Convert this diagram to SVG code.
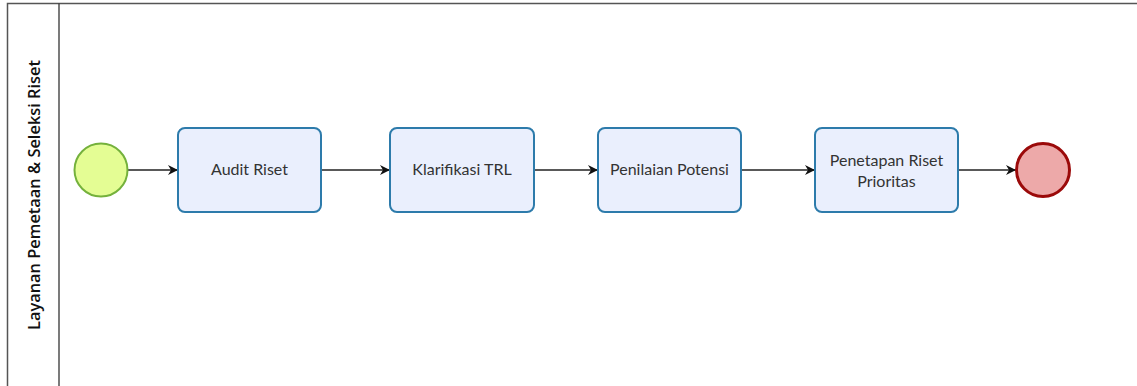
<svg xmlns="http://www.w3.org/2000/svg" width="1137" height="386" viewBox="0 0 1137 386">
<style>
.task{fill:#eaeffd;stroke:#2d7bab;stroke-width:2}
.lbl{font-family:Lato,"Open Sans",sans-serif;font-size:16px;fill:#333;text-anchor:middle}
.conn{stroke:#222;stroke-width:1.3;fill:none;marker-end:url(#arr)}
</style>
<defs>
<marker id="arr" viewBox="0 0 10 10" refX="10" refY="5" markerWidth="10" markerHeight="10" markerUnits="userSpaceOnUse" orient="auto">
<path d="M0,0 L10,5 L0,10 L3,5 Z" fill="#111"/>
</marker>
</defs>
<rect width="1137" height="386" fill="#fff"/>
<g id="pool">
<path d="M1137,3.5 H7.5 V386" fill="none" stroke="#555" stroke-width="1.5"/>
<line x1="59" y1="3.5" x2="59" y2="386" stroke="#333" stroke-width="1.3"/>
<text transform="translate(39.5,195) rotate(-90)" text-anchor="middle" font-family="'Open Sans',Lato,sans-serif" font-weight="600" font-size="16.4" fill="#111">Layanan Pemetaan &amp; Seleksi Riset</text>
</g>
<g id="connectors">
<line class="conn" x1="127.5" y1="170" x2="178" y2="170"/>
<line class="conn" x1="321" y1="170" x2="390" y2="170"/>
<line class="conn" x1="534" y1="170" x2="598" y2="170"/>
<line class="conn" x1="741" y1="170" x2="815" y2="170"/>
<line class="conn" x1="958" y1="170" x2="1016" y2="170"/>
</g>
<g id="start"><circle cx="101" cy="170" r="26.5" fill="#e4fd94" stroke="#74b13c" stroke-width="2"/></g>
<g id="audit"><rect class="task" x="178" y="128" width="143" height="84" rx="7"/><text class="lbl" x="249.5" y="175">Audit Riset</text></g>
<g id="klarifikasi"><rect class="task" x="390" y="128" width="144" height="84" rx="7"/><text class="lbl" x="462" y="175">Klarifikasi TRL</text></g>
<g id="penilaian"><rect class="task" x="598" y="128" width="143" height="84" rx="7"/><text class="lbl" x="669.5" y="175">Penilaian Potensi</text></g>
<g id="penetapan"><rect class="task" x="815" y="128" width="143" height="84" rx="7"/><text class="lbl" x="886.5" y="166">Penetapan Riset</text><text class="lbl" x="886.5" y="187">Prioritas</text></g>
<g id="end"><circle cx="1043" cy="170" r="26.5" fill="#eda9a9" stroke="#9b0a0a" stroke-width="3"/></g>
</svg>
